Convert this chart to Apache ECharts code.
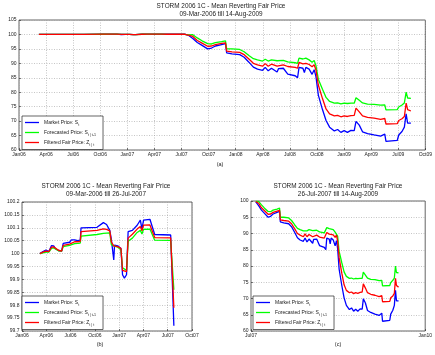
<!DOCTYPE html>
<html>
<head>
<meta charset="utf-8">
<script src="https://cdn.jsdelivr.net/npm/echarts@6/dist/echarts.min.js"></script>
<style>
  html, body { margin: 0; background: #fff; }
  #chart { width: 435px; height: 355px; }
</style>
</head>
<body>
<div id="chart"></div>
<script>
const dates = [
  '2006-03-09','2006-03-21','2006-04-01','2006-04-12','2006-04-22','2006-04-30','2006-05-06','2006-05-18',
  '2006-05-30','2006-06-05','2006-06-29','2006-07-06','2006-07-18','2006-07-24','2006-07-30','2006-08-08',
  '2006-08-11','2006-10-10','2006-11-03','2006-11-15','2006-11-27','2006-12-03','2006-12-12','2006-12-15',
  '2006-12-27','2007-01-08','2007-01-14','2007-01-21','2007-01-29','2007-02-04','2007-02-20','2007-03-10',
  '2007-03-22','2007-03-28','2007-04-03','2007-04-27','2007-05-03','2007-05-15','2007-07-14','2007-07-20',
  '2007-07-26',
  '2007-08-10','2007-08-25','2007-09-10','2007-09-29','2007-10-12','2007-10-25','2007-11-15','2007-11-28',
  '2007-12-02','2007-12-20','2008-01-15','2008-01-30','2008-02-15','2008-03-01','2008-03-15','2008-04-01',
  '2008-04-10','2008-04-20','2008-05-01','2008-05-20','2008-05-25','2008-06-10','2008-06-25','2008-07-20',
  '2008-07-28','2008-08-02','2008-08-15','2008-08-20','2008-08-25','2008-09-05','2008-09-15','2008-09-22',
  '2008-09-28','2008-10-06','2008-10-20','2008-11-01','2008-11-13','2008-11-29','2008-12-10','2008-12-21',
  '2009-01-01','2009-01-12','2009-01-24','2009-02-04','2009-02-10','2009-02-21','2009-03-04','2009-03-21',
  '2009-04-12','2009-05-04','2009-05-18','2009-05-22','2009-06-29','2009-07-04','2009-07-15','2009-07-23',
  '2009-07-29','2009-08-03','2009-08-14'
];
const marketPrice = [
  100.000,100.008,100.014,100.008,100.031,100.030,100.020,100.012,
  100.010,100.040,100.044,100.053,100.053,100.059,100.050,100.052,
  100.100,100.102,100.120,100.113,100.090,100.055,99.975,100.033,
  100.030,100.020,99.918,99.905,99.918,100.085,100.090,100.110,
  100.130,100.095,100.130,100.133,100.130,100.074,100.072,100.070,
  99.720,
  98.6,97.2,96.2,95.0,95.3,96.0,96.5,96.8,
  93.6,93.3,93.0,92.1,90.4,88.7,88.0,87.6,
  88.6,87.4,88.3,87.0,88.2,88.3,86.3,85.7,
  85.0,88.6,88.3,86.8,88.6,88.0,86.2,87.8,
  85.4,79.0,74.0,70.2,67.9,66.6,67.1,66.1,
  66.7,66.1,66.8,66.7,69.9,68.6,66.3,65.7,
  65.2,64.8,65.5,63.0,63.3,65.2,66.4,67.9,
  72.5,69.3,69.3
];
const forecastPrice = [
  100.000,100.003,100.006,100.006,100.020,100.022,100.020,100.011,
  100.010,100.027,100.032,100.036,100.039,100.041,100.040,100.041,
  100.068,100.074,100.078,100.079,100.080,100.035,100.030,100.028,
  100.025,100.015,99.945,99.940,99.935,100.048,100.060,100.082,
  100.090,100.076,100.094,100.095,100.092,100.052,100.051,100.048,
  99.860,
  99.9,98.8,97.8,96.8,96.7,97.2,97.5,97.8,
  95.0,95.0,94.8,94.0,92.7,91.6,91.2,90.8,
  91.4,90.8,91.2,90.9,91.2,91.0,90.5,90.2,
  90.0,91.8,91.5,91.0,91.8,91.2,90.4,91.0,
  89.2,84.5,81.0,78.2,76.8,76.2,76.3,76.0,
  76.2,76.1,76.2,76.2,78.1,77.2,76.3,75.9,
  75.8,75.5,75.6,73.9,74.0,74.9,75.6,76.3,
  80.0,78.0,77.9
];
const filteredPrice = [
  100.000,100.006,100.010,100.008,100.025,100.026,100.022,100.013,
  100.010,100.032,100.037,100.043,100.046,100.048,100.046,100.047,
  100.085,100.090,100.096,100.094,100.088,100.045,100.030,100.030,
  100.027,100.020,99.935,99.928,99.930,100.060,100.075,100.095,
  100.105,100.088,100.110,100.111,100.108,100.062,100.061,100.058,
  99.790,
  99.3,97.9,97.0,95.9,96.0,96.5,96.9,97.1,
  94.2,94.0,93.8,93.0,91.5,90.0,89.5,89.0,
  89.9,89.0,89.7,89.0,89.6,89.5,88.9,88.6,
  88.3,90.3,89.8,89.2,90.0,89.6,88.8,89.5,
  87.7,82.5,77.8,74.2,72.5,71.8,72.0,71.5,
  71.8,71.6,71.9,72.0,74.5,73.2,71.8,71.3,
  71.0,70.6,70.9,69.0,69.1,70.2,70.8,71.6,
  76.2,74.0,73.5
];

const quarterNames = ['Jan', 'Apr', 'Jul', 'Oct'];
const zoomTickLabels = ['Jul07', 'Jan10'];
const seriesNames = ['Market Price', 'Forecasted Price', 'Filtered Fair Price'];
const legendText = {
  'Market Price': '{a|Market Price: S}{s|t}',
  'Forecasted Price': '{a|Forecasted Price: S}{s|t | t-1}',
  'Filtered Fair Price': '{a|Filtered Fair Price: Z}{s|t | t}'
};
const colors = ['#0000ff', '#00ff00', '#ff0000'];

const FONT = 'Liberation Sans, Arial, sans-serif';
const Q = 365.25 / 4; // average quarter in days
const DAY0 = Date.UTC(2006, 0, 1);
const dayNum = s => {
  const [y, m, d] = s.split('-').map(Number);
  return (Date.UTC(y, m - 1, d) - DAY0) / 86400000;
};
const CUT = dayNum('2007-07-26');
const ZOOM0 = dayNum('2007-07-01');

const quarterLabel = v => {
  const m = Math.round(v / Q) * 3;
  return quarterNames[(m % 12) / 3] + String(2006 + Math.floor(m / 12)).slice(2);
};

const chart = echarts.init(document.getElementById('chart'), null, { renderer: 'canvas' });

const gridStyle = { show: true, borderColor: '#222', borderWidth: 0.7, backgroundColor: '#fff' };
const split = { show: true, lineStyle: { color: '#a0a0a0', width: 0.6, type: [1, 1.5] } };
const tick = { inside: true, length: 2, lineStyle: { color: '#222', width: 0.6 } };
const label = { fontSize: 5, color: '#222', fontFamily: FONT, showMinLabel: true, showMaxLabel: true };

function xAxis(gridIndex, max, interval, formatter, showSplit) {
  return {
    type: 'value', gridIndex, min: 0, max, interval,
    axisLine: { show: false }, axisTick: tick,
    axisLabel: Object.assign({ margin: 2.5, formatter }, label),
    splitLine: showSplit ? split : { show: false }
  };
}
function yAxis(gridIndex, min, max, interval, formatter) {
  return {
    type: 'value', gridIndex, min, max, interval,
    axisLine: { show: false }, axisTick: tick,
    axisLabel: Object.assign({ margin: 2.5, formatter }, label),
    splitLine: split
  };
}

function seriesFor(gridIndex, filter, shift) {
  const all = [marketPrice, forecastPrice, filteredPrice];
  return all.map((vals, i) => ({
    name: seriesNames[i], type: 'line', xAxisIndex: gridIndex, yAxisIndex: gridIndex,
    showSymbol: false, symbol: 'none', animation: false,
    lineStyle: { color: colors[i], width: 1.3 }, itemStyle: { color: colors[i] },
    data: dates.map((d, j) => [dayNum(d) - shift, vals[j]]).filter(p => filter(p[0] + shift))
  }));
}

function legend(left, top) {
  return {
    left, top, orient: 'vertical', data: seriesNames,
    backgroundColor: '#fff', borderColor: '#222', borderWidth: 0.7,
    padding: [4, 7, 3, 3], icon: 'rect', itemWidth: 14, itemHeight: 1.3, itemGap: 3.5,
    selectedMode: false,
    formatter: n => legendText[n],
    textStyle: {
      fontFamily: FONT, color: '#222', fontSize: 5,
      rich: {
        a: { fontSize: 5, lineHeight: 8, fontFamily: FONT, color: '#222', verticalAlign: 'middle' },
        s: { fontSize: 3.6, lineHeight: 8, fontFamily: FONT, color: '#222', verticalAlign: 'bottom' }
      }
    }
  };
}

function text(x, y, str, size) {
  return {
    type: 'text', x, y, silent: true,
    style: { text: str, align: 'center', verticalAlign: 'top', fontSize: size, lineHeight: 8,
             fontFamily: FONT, fill: '#222' }
  };
}

const TITLE = 'STORM 2006 1C - Mean Reverting Fair Price';

chart.setOption({
  backgroundColor: '#fff',
  animation: false,
  grid: [
    Object.assign({ left: 19, top: 20, width: 409, height: 130 }, gridStyle),
    Object.assign({ left: 22, top: 202, width: 170, height: 129 }, gridStyle),
    Object.assign({ left: 251, top: 201, width: 176, height: 130 }, gridStyle)
  ],
  xAxis: [
    xAxis(0, 15 * Q, Q, quarterLabel, true),
    xAxis(1, 7 * Q, Q, quarterLabel, true),
    xAxis(2, dayNum('2010-01-01') - ZOOM0, dayNum('2010-01-01') - ZOOM0,
          v => zoomTickLabels[v < 1 ? 0 : 1], false)
  ],
  yAxis: [
    yAxis(0, 60, 105, 5),
    yAxis(1, 99.7, 100.2, 0.05, v => String(+v.toFixed(2))),
    yAxis(2, 60, 100, 5)
  ],
  legend: [legend(22, 116), legend(22, 296), legend(253, 296)],
  graphic: [
    text(221, 2, TITLE + '\n09-Mar-2006 till 14-Aug-2009', 6.4),
    text(106, 182.5, TITLE + '\n09-Mar-2006 till 26-Jul-2007', 6.4),
    text(338, 182.5, TITLE + '\n26-Jul-2007 till 14-Aug-2009', 6.4),
    text(220, 160, '(a)', 5.5),
    text(100, 340, '(b)', 5.5),
    text(338, 340, '(c)', 5.5)
  ],
  series: [
    ...seriesFor(0, () => true, 0),
    ...seriesFor(1, d => d <= CUT, 0),
    ...seriesFor(2, d => d >= CUT, ZOOM0)
  ]
});
</script>
</body>
</html>
